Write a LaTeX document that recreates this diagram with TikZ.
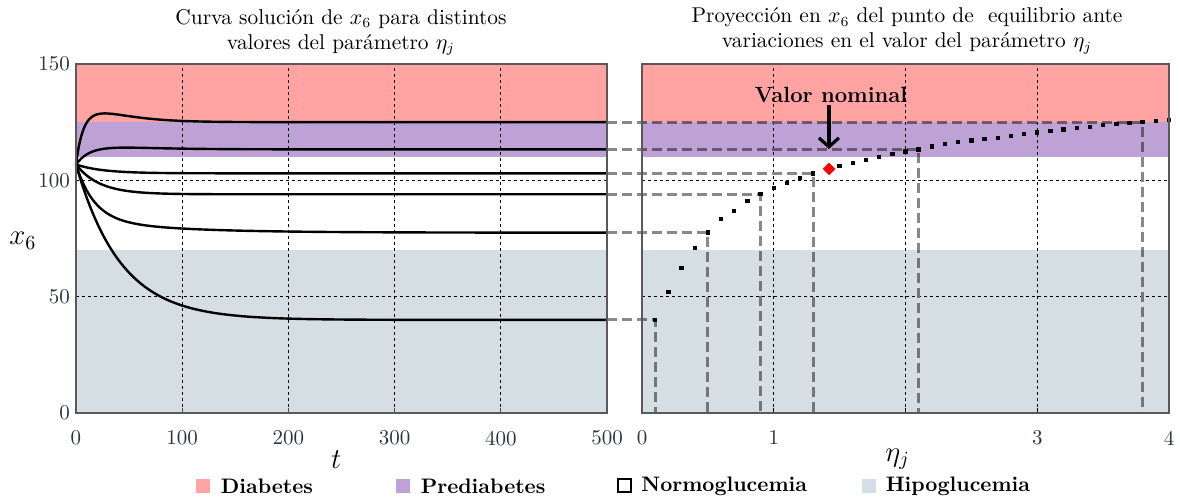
\documentclass[tikz,border=0pt]{standalone}
\usepackage{amsmath}
\usetikzlibrary{arrows.meta, positioning, shapes.geometric}
\definecolor{diabRed}{RGB}{255,163,163}
\definecolor{prediabPurple}{RGB}{191,162,213}
\definecolor{hipoGray}{RGB}{213,222,226}
\definecolor{projGray}{RGB}{136,136,136}
\definecolor{axisGray}{gray}{0.35}
\definecolor{labelSlate}{RGB}{45,50,65}

\tikzset{
  gridline/.style={black, line width=0.5pt, dash pattern=on 1.5pt off 1.5pt},
  solcurve/.style={black, line width=1.2pt},
  projline/.style={projGray, line width=1.5pt, dash pattern=on 5pt off 2.5pt},
  ptmark/.style={fill=black, inner sep=0pt, minimum size=2.2pt},
  nomdiamond/.style={diamond, fill=red, inner sep=0pt, minimum size=6.5pt},
  nomarrow/.style={black, line width=1.6pt, -{Straight Barb[length=4.5pt, width=10pt]}},
  frame/.style={axisGray, line width=0.6pt},
  ticklabel/.style={labelSlate, font=\fontsize{10.5}{12}\selectfont, inner sep=0pt},
  legkey/.style={minimum size=7pt, inner sep=0pt},
  legtext/.style={font=\bfseries\fontsize{10.5}{12}\selectfont, inner sep=0pt},
}

\begin{document}
\begin{tikzpicture}[x=0.5pt, y=0.5pt, >=Stealth]
    \useasboundingbox (0,0) rectangle (1180,504);

    % titulos
    \node[align=center, font=\fontsize{10.7}{12.5}\selectfont] (ttlL) at (341,472)
        {Curva solución de $x_6$ para distintos\\ valores del parámetro $\eta_j$};
    \node[align=center, font=\fontsize{10.7}{12.5}\selectfont] (ttlR) at (907,473)
        {Proyección en $x_6$ del punto de \ equilibrio ante\\ variaciones en el valor del parámetro $\eta_j$};

    % panel izquierdo: curvas solucion
    \begin{scope}[shift={(76,91)}, xscale=1.062, yscale=2.3267]
        \foreach \t in {100,200,300,400} \draw[gridline] (\t,0) -- (\t,150);
        \foreach \v in {50,100} \draw[gridline] (0,\v) -- (500,\v);
        \foreach \t in {100,200,300,400} \draw[frame] (\t,0) -- (\t,2);

        \draw[solcurve] plot[domain=0:500, samples=200, smooth] (\x, {125-18.2*exp(-\x/6)+0.5*\x*exp(-\x/22)});
        \draw[solcurve] plot[domain=0:500, samples=200, smooth] (\x, {113.3-6.5*exp(-\x/12)+0.09*\x*exp(-\x/30)});
        \draw[solcurve] plot[domain=0:500, samples=200, smooth] (\x, {103+3.8*exp(-\x/25)});
        \draw[solcurve] plot[domain=0:500, samples=200, smooth] (\x, {94+12.8*exp(-\x/22)});
        \draw[solcurve] plot[domain=0:500, samples=200, smooth] (\x, {77.5+23.3*exp(-\x/17)+6*exp(-\x/80)});
        \draw[solcurve] plot[domain=0:500, samples=200, smooth] (\x, {40+66.8*exp(-\x/42)});

        \coordinate (e1) at (500,125);
        \coordinate (e2) at (500,113.3);
        \coordinate (e3) at (500,103);
        \coordinate (e4) at (500,94);
        \coordinate (e5) at (500,77.5);
        \coordinate (e6) at (500,40);

        \foreach \t in {0,100,200,300,400,500}
            \node[ticklabel, anchor=north] (tx\t) at (\t,-7.5) {\t};
        \foreach \v in {0,50,100,150}
            \node[ticklabel, anchor=east] (ty\v) at (-5.5,\v) {\v};
        \node[font=\Large] (ylab) at (-50,74) {$x_6$};
        \node[font=\Large] (tlab) at (245,-20) {$t$};
    \end{scope}

    % panel derecho: proyeccion del equilibrio
    \begin{scope}[shift={(642,91)}, xscale=131.75, yscale=2.3267]
        \foreach \e in {1,2,3} \draw[gridline] (\e,0) -- (\e,150);
        \foreach \v in {50,100} \draw[gridline] (0,\v) -- (4,\v);
        \foreach \e in {1,2,3} \draw[black, line width=0.6pt] (\e,0) -- (\e,2);

        \coordinate (p1) at (3.8,125);   \coordinate (b1) at (3.8,0);
        \coordinate (p2) at (2.1,113.3); \coordinate (b2) at (2.1,0);
        \coordinate (p3) at (1.3,103);   \coordinate (b3) at (1.3,0);
        \coordinate (p4) at (0.9,94);    \coordinate (b4) at (0.9,0);
        \coordinate (p5) at (0.5,77.5);  \coordinate (b5) at (0.5,0);
        \coordinate (p6) at (0.1,40);    \coordinate (b6) at (0.1,0);

        \foreach \e in {0,1,3,4}
            \node[ticklabel, anchor=north] (te\e) at (\e,-7.5) {\e};
        \node[font=\Large] (etalab) at (1.94,-20) {$\eta_j$};
    \end{scope}

    % proyecciones
    \foreach \k in {1,...,6} \draw[projline] (e\k) -- (p\k) -- (b\k);

    \begin{scope}[shift={(642,91)}, xscale=131.75, yscale=2.3267]
        \foreach \e/\v [count=\i] in {0.1/40, 0.2/52, 0.3/62.3, 0.4/70.9, 0.5/77.5, 0.6/83.4,
                0.7/86.8, 0.8/91.1, 0.9/94, 1.0/96.7, 1.1/98.8, 1.2/101, 1.3/103,
                1.5/106.1, 1.6/107.4, 1.7/108.7, 1.8/110, 1.9/111.3, 2.0/112.4, 2.1/113.3,
                2.2/114.5, 2.3/115.5, 2.4/116.4, 2.5/117.2, 2.6/117.8, 2.7/118.3, 2.8/119,
                2.9/119.8, 3.0/120.6, 3.1/121.2, 3.2/121.9, 3.3/122.5, 3.4/123, 3.5/123.7,
                3.6/124.2, 3.7/124.6, 3.8/125, 3.9/125.5, 4.0/125.9}
            \node[ptmark] (pt\i) at (\e,\v) {};
        \node[nomdiamond] (nomdia) at (1.42,104.9) {};
        \node[font=\bfseries\fontsize{11}{13}\selectfont, inner sep=1pt] (nomlbl) at (1.435,136.7) {Valor nominal};
        \draw[nomarrow, shorten >=6.5pt] (nomlbl.south -| nomdia) -- (nomdia.north);
    \end{scope}

    % bandas de glucemia
    \begin{scope}[shift={(76,91)}, xscale=1.062, yscale=2.3267, blend mode=multiply]
        \fill[diabRed] (0,125) rectangle (500,150);
        \fill[prediabPurple] (0,110) rectangle (500,125);
        \fill[hipoGray] (0,0) rectangle (500,70);
    \end{scope}
    \begin{scope}[shift={(642,91)}, xscale=131.75, yscale=2.3267, blend mode=multiply]
        \fill[diabRed] (0,125) rectangle (4,150);
        \fill[prediabPurple] (0,110) rectangle (4,125);
        \fill[hipoGray] (0,0) rectangle (4,70);
    \end{scope}
    \draw[frame] (76,91) rectangle (607,440);
    \draw[frame] (642,91) rectangle (1169,440);

    % leyenda
    \node[legkey, fill=diabRed] (kDiab) at (203,18) {};
    \node[legtext, right=5pt of kDiab] (lDiab) {Diabetes};
    \node[legkey, fill=prediabPurple] (kPre) at (403,18) {};
    \node[legtext, right=5pt of kPre] (lPre) {Prediabetes};
    \node[legkey, draw=black, line width=1pt, minimum size=6.5pt] (kNor) at (624.5,18) {};
    \node[legtext, right=4.5pt of kNor] (lNor) {Normoglucemia};
    \node[legkey, fill=hipoGray] (kHip) at (869,18) {};
    \node[legtext, right=4.5pt of kHip] (lHip) {Hipoglucemia};
\end{tikzpicture}
\end{document}
